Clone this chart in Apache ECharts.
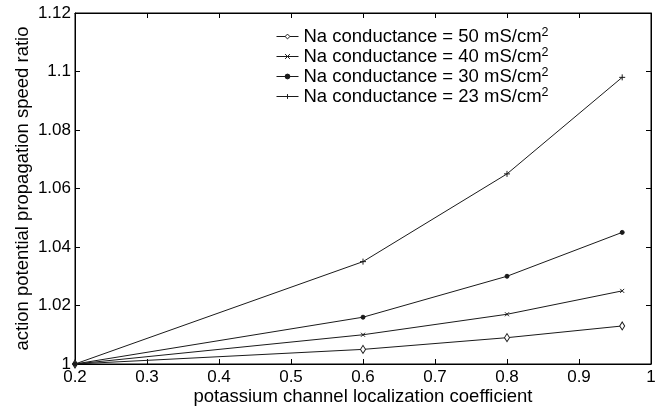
<!DOCTYPE html>
<html>
<head>
<meta charset="utf-8">
<script src="https://cdn.jsdelivr.net/npm/echarts@6/dist/echarts.min.js"></script>
<style>
  html, body { margin: 0; padding: 0; background: #fff; }
  #chart { width: 668px; height: 408px; }
</style>
</head>
<body>
<div id="chart"></div>
<script>
// Localization coefficient (x) and speed ratio for each Na conductance
const coeff = [0.2, 0.6, 0.8, 0.96];
const na50 = [1.000, 1.005, 1.009, 1.013];
const na40 = [1.000, 1.010, 1.017, 1.025];
const na30 = [1.000, 1.016, 1.030, 1.045];
const na23 = [1.000, 1.035, 1.065, 1.098];
const seriesNames = ['50', '40', '30', '23'];

const FONT = 'Liberation Sans, Arial, Helvetica, sans-serif';
const INK = '#1a1a1a';

const pairs = vals => coeff.map((x, i) => [x, vals[i]]);

function lineSeries(key, vals, symbol, size, fill) {
  return {
    name: key,
    type: 'line',
    data: pairs(vals),
    symbol: symbol,
    symbolSize: size,
    showAllSymbol: true,
    lineStyle: { color: INK, width: 1 },
    itemStyle: { color: fill, borderColor: INK, borderWidth: 1 },
    emphasis: { disabled: true },
    animation: false,
    z: 3
  };
}

const chart = echarts.init(document.getElementById('chart'));

const tickFmt = v => String(parseFloat(v.toFixed(2)));

chart.setOption({
  backgroundColor: '#fff',
  animation: false,
  grid: {
    left: 75, right: 17, top: 13, bottom: 44,
    outerBoundsMode: 'none', containLabel: false,
    show: true, borderColor: '#000', borderWidth: 1, backgroundColor: 'transparent'
  },
  legend: {
    orient: 'vertical',
    left: 271, top: 21,
    itemWidth: 22, itemHeight: 6, itemGap: 0,
    data: seriesNames,
    lineStyle: { width: 1 },
    itemStyle: { borderWidth: 1 },
    formatter: n => '{t|Na conductance = ' + n + ' mS/cm}{s|2}',
    textStyle: {
      color: '#000', fontFamily: FONT,
      rich: {
        t: { fontSize: 18.5, fontFamily: FONT, color: '#000', lineHeight: 21 },
        s: { fontSize: 12.5, fontFamily: FONT, color: '#000', verticalAlign: 'top', lineHeight: 12 }
      }
    }
  },
  xAxis: [{
    type: 'value', min: 0.2, max: 1, interval: 0.1, position: 'bottom',
    name: 'potassium channel localization coefficient',
    nameLocation: 'middle', nameGap: 23, nameMoveOverlap: false,
    nameTextStyle: { fontSize: 18.5, fontFamily: FONT, color: '#000' },
    axisLine: { show: true, lineStyle: { color: '#000', width: 1 } },
    axisTick: { show: true, inside: true, length: 5, lineStyle: { color: '#000' } },
    axisLabel: { fontSize: 17, fontFamily: FONT, color: '#000', margin: 5, formatter: tickFmt },
    splitLine: { show: false }
  }, {
    type: 'value', min: 0.2, max: 1, interval: 0.1, position: 'top',
    axisLine: { show: true, lineStyle: { color: '#000', width: 1 } },
    axisTick: { show: true, inside: true, length: 5, lineStyle: { color: '#000' } },
    axisLabel: { show: false },
    splitLine: { show: false }
  }],
  yAxis: [{
    type: 'value', min: 1, max: 1.12, interval: 0.02, position: 'left',
    name: 'action potential propagation speed ratio',
    nameLocation: 'middle', nameGap: 43, nameMoveOverlap: false,
    nameTextStyle: { fontSize: 18.5, fontFamily: FONT, color: '#000' },
    axisLine: { show: true, lineStyle: { color: '#000', width: 1 } },
    axisTick: { show: true, inside: true, length: 5, lineStyle: { color: '#000' } },
    axisLabel: { fontSize: 17, fontFamily: FONT, color: '#000', margin: 4, formatter: tickFmt },
    splitLine: { show: false }
  }, {
    type: 'value', min: 1, max: 1.12, interval: 0.02, position: 'right',
    axisLine: { show: true, lineStyle: { color: '#000', width: 1 } },
    axisTick: { show: true, inside: true, length: 5, lineStyle: { color: '#000' } },
    axisLabel: { show: false },
    splitLine: { show: false }
  }],
  series: [
    lineSeries('50', na50, 'diamond', [5, 8], '#fff'),
    lineSeries('40', na40, 'path://M0,0L10,10M10,0L0,10', 4, '#fff'),
    lineSeries('30', na30, 'circle', 4, INK),
    lineSeries('23', na23, 'path://M0,5L10,5M5,0L5,10', 6, '#fff')
  ]
});
</script>
</body>
</html>
